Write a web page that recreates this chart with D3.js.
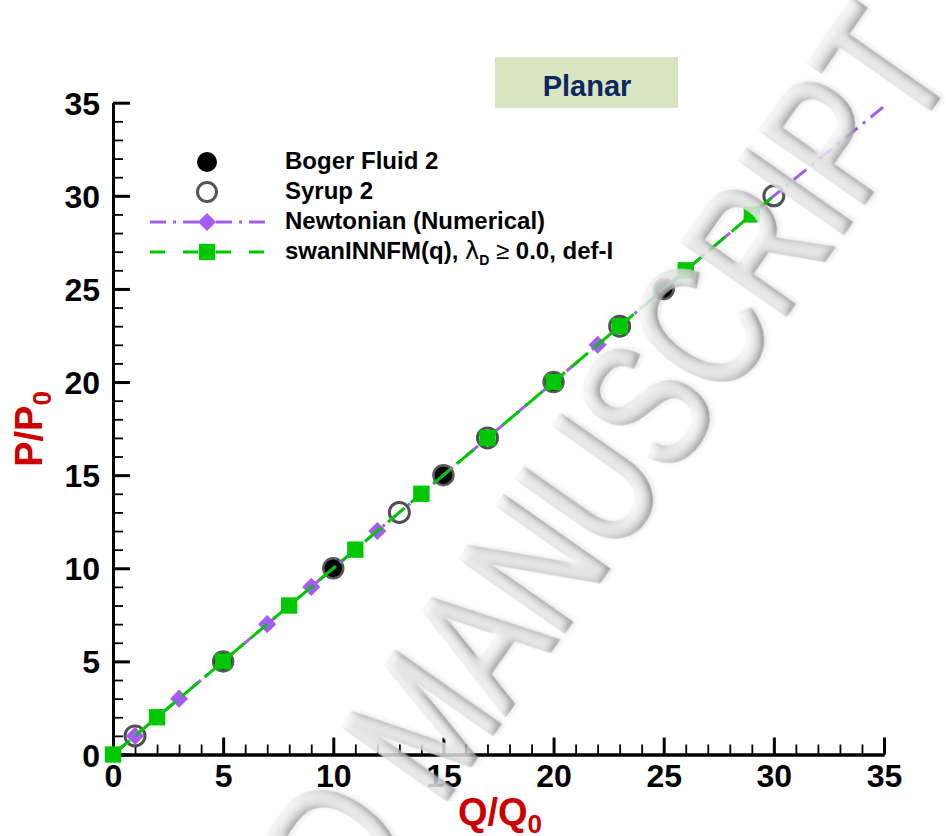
<!DOCTYPE html>
<html>
<head>
<meta charset="utf-8">
<script src="https://cdn.jsdelivr.net/npm/d3@7"></script>
<style>
  html, body { margin: 0; padding: 0; background: #ffffff; }
  svg { display: block; }
  text { font-family: "Liberation Sans", Arial, Helvetica, sans-serif; }
</style>
</head>
<body>
<div id="chart"></div>
<script>
// Dimensionless pressure drop vs flow rate, planar contraction
const xTicks = [0, 5, 10, 15, 20, 25, 30, 35];
const yTicks = [0, 5, 10, 15, 20, 25, 30, 35];

// Experimental data
const bogerQ = [5, 10, 15, 20, 25];
const bogerP = [5, 10, 15, 20, 25];
const syrupQ = [1, 13, 17, 23, 30];
const syrupP = [1, 13, 17, 23, 30];

// Newtonian numerical solution (curve nodes and the nodes carrying symbols)
const newtonianQ = [0, 1, 3, 7, 9, 12, 22, 30, 35];
const newtonianP = [0, 1, 3, 7, 9, 12, 22, 30, 34.8];
const newtonianSymbolQ = [1, 3, 7, 9, 12, 22];

// swanINNFM(q) solution
const swanQ = [0, 2, 5, 8, 11, 14, 17, 20, 23, 26, 29, 30];
const swanP = [0, 2, 5, 8, 11, 14, 17, 20, 23, 26, 29, 30];
const swanSymbolQ = [0, 2, 5, 8, 11, 14, 17, 20, 23, 26, 29];

const legendLabels = ["Boger Fluid 2", "Syrup 2", "Newtonian (Numerical)", "swanINNFM(q)"];

const W = 946, H = 836;
const purple = "#a45cf5", green = "#00c800";

const svg = d3.select("#chart").append("svg")
  .attr("width", W).attr("height", H)
  .attr("viewBox", `0 0 ${W} ${H}`);

svg.append("rect").attr("width", W).attr("height", H).attr("fill", "#ffffff");

const x = d3.scaleLinear().domain([0, 35]).range([113, 884]);
const y = d3.scaleLinear().domain([0, 35]).range([754.5, 102.7]);

const minorVals = d3.range(0, 36).filter(v => v % 5 !== 0);

// ---- axes ----
function styleAxis(g, major) {
  g.select(".domain").attr("stroke", "#000").attr("stroke-width", 3);
  g.selectAll(".tick line").attr("stroke", "#000").attr("stroke-width", major ? 3 : 1.8);
  g.selectAll(".tick text")
    .attr("fill", "#000")
    .style("font-size", "32px")
    .style("font-weight", "bold");
}

const xMinor = svg.append("g").attr("transform", `translate(0,${y(0)})`)
  .call(d3.axisBottom(x).tickValues(minorVals).tickSizeInner(-10).tickSizeOuter(0).tickFormat(""));
styleAxis(xMinor, false);
const yMinor = svg.append("g").attr("transform", `translate(${x(0)},0)`)
  .call(d3.axisLeft(y).tickValues(minorVals).tickSizeInner(-10).tickSizeOuter(0).tickFormat(""));
styleAxis(yMinor, false);

const xAxis = svg.append("g").attr("transform", `translate(0,${y(0)})`)
  .call(d3.axisBottom(x).tickValues(xTicks).tickSizeInner(-17).tickSizeOuter(0).tickPadding(10).tickFormat(d3.format("d")));
styleAxis(xAxis, true);
const yAxis = svg.append("g").attr("transform", `translate(${x(0)},0)`)
  .call(d3.axisLeft(y).tickValues(yTicks).tickSizeInner(-17).tickSizeOuter(0).tickPadding(13).tickFormat(d3.format("d")));
styleAxis(yAxis, true);
yAxis.selectAll(".tick text").attr("dy", "0.36em");

// ---- axis titles ----
const xt = svg.append("text")
  .attr("x", 500).attr("y", 825)
  .attr("text-anchor", "middle")
  .attr("fill", "#cc0000")
  .style("font-size", "38px").style("font-weight", "bold");
xt.append("tspan").text("Q/Q");
xt.append("tspan").attr("dy", 8).style("font-size", "26px").text("0");

const yt = svg.append("text")
  .attr("transform", "translate(42,429) rotate(-90)")
  .attr("text-anchor", "middle")
  .attr("fill", "#cc0000")
  .style("font-size", "38px").style("font-weight", "bold");
yt.append("tspan").text("P/P");
yt.append("tspan").attr("dy", 9).style("font-size", "26px").text("0");

// ---- "Planar" label ----
svg.append("rect")
  .attr("x", 495).attr("y", 57).attr("width", 183).attr("height", 51)
  .attr("fill", "#d9e4c2");
svg.append("text")
  .attr("x", 587).attr("y", 96)
  .attr("text-anchor", "middle")
  .attr("fill", "#0e2761")
  .style("font-size", "29px").style("font-weight", "bold")
  .text("Planar");

// ---- data marks ----
const bogerPts = bogerQ.map((q, i) => [q, bogerP[i]]);
const syrupPts = syrupQ.map((q, i) => [q, syrupP[i]]);
const newtonianPts = newtonianQ.map((q, i) => [q, newtonianP[i]]);
const swanPts = swanQ.map((q, i) => [q, swanP[i]]);

const line = d3.line().x(d => x(d[0])).y(d => y(d[1]));

svg.append("g").selectAll("circle").data(bogerPts).join("circle")
  .attr("cx", d => x(d[0])).attr("cy", d => y(d[1])).attr("r", 10)
  .attr("fill", "#000").attr("stroke", "#5a5a5a").attr("stroke-width", 2.5);

svg.append("g").selectAll("circle").data(syrupPts).join("circle")
  .attr("cx", d => x(d[0])).attr("cy", d => y(d[1])).attr("r", 10)
  .attr("fill", "none").attr("stroke", "#505050").attr("stroke-width", 3);

const diamond = d3.symbol().type(d3.symbolDiamond2).size(210);
const square = d3.symbol().type(d3.symbolSquare2).size(340);

svg.append("path").datum(newtonianPts)
  .attr("d", line).attr("fill", "none")
  .attr("stroke", purple).attr("stroke-width", 3)
  .attr("stroke-dasharray", "16,7,3,7");
svg.append("g").selectAll("path")
  .data(newtonianPts.filter(d => newtonianSymbolQ.includes(d[0])))
  .join("path")
  .attr("transform", d => `translate(${x(d[0])},${y(d[1])})`)
  .attr("d", diamond).attr("fill", purple);

svg.append("path").datum(swanPts)
  .attr("d", line).attr("fill", "none")
  .attr("stroke", green).attr("stroke-width", 3)
  .attr("stroke-dasharray", "22,8");
svg.append("g").selectAll("path")
  .data(swanPts.filter(d => swanSymbolQ.includes(d[0])))
  .join("path")
  .attr("transform", d => `translate(${x(d[0])},${y(d[1])})`)
  .attr("d", square).attr("fill", green);

// ---- legend ----
const lg = svg.append("g");
const rowY = [162, 192, 222, 252];
const mx = 207, tx = 285;

lg.append("circle").attr("cx", mx).attr("cy", rowY[0]).attr("r", 10).attr("fill", "#000");
lg.append("circle").attr("cx", mx).attr("cy", rowY[1]).attr("r", 9.5)
  .attr("fill", "none").attr("stroke", "#555").attr("stroke-width", 3);

lg.append("line").attr("x1", 150).attr("x2", 265).attr("y1", rowY[2]).attr("y2", rowY[2])
  .attr("stroke", purple).attr("stroke-width", 3).attr("stroke-dasharray", "16,7,3,7");
lg.append("path").attr("transform", `translate(${mx},${rowY[2]})`).attr("d", diamond).attr("fill", purple);

lg.append("line").attr("x1", 150).attr("x2", 265).attr("y1", rowY[3]).attr("y2", rowY[3])
  .attr("stroke", green).attr("stroke-width", 3).attr("stroke-dasharray", "15,18");
lg.append("path").attr("transform", `translate(${mx},${rowY[3]})`).attr("d", square).attr("fill", green);

legendLabels.forEach((lab, i) => {
  const t = lg.append("text")
    .attr("x", tx).attr("y", rowY[i] + 7)
    .attr("fill", "#000")
    .style("font-size", "24px").style("font-weight", "bold");
  t.append("tspan").text(lab);
  if (i === 3) {
    t.append("tspan").text(", ");
    t.append("tspan").style("font-weight", "normal").style("font-family", "'DejaVu Sans', sans-serif").text("λ");
    t.append("tspan").attr("dy", 6).style("font-size", "14px").text("D");
    t.append("tspan").attr("dy", -6).style("font-weight", "normal").text(" ≥ ");
    t.append("tspan").text("0.0, def-I");
  }
});

// ---- watermark (embossed grey lettering) ----
const defs = svg.append("defs");
const f = defs.append("filter").attr("id", "emboss")
  .attr("x", "-5%").attr("y", "-20%").attr("width", "110%").attr("height", "140%");
f.append("feGaussianBlur").attr("in", "SourceAlpha").attr("stdDeviation", 4).attr("result", "blur");
const light = f.append("feDiffuseLighting").attr("in", "blur")
  .attr("surfaceScale", 4).attr("diffuseConstant", 1.2)
  .attr("lighting-color", "#e4e4e4").attr("result", "lit");
light.append("feDistantLight").attr("azimuth", 235).attr("elevation", 55);
f.append("feComposite").attr("in", "lit").attr("in2", "SourceAlpha").attr("operator", "in").attr("result", "litIn");
f.append("feGaussianBlur").attr("in", "SourceAlpha").attr("stdDeviation", 2.5).attr("result", "sblur");
f.append("feOffset").attr("in", "sblur").attr("dx", 3).attr("dy", 2).attr("result", "soff");
f.append("feFlood").attr("flood-color", "#000").attr("flood-opacity", 0.12).attr("result", "sc");
f.append("feComposite").attr("in", "sc").attr("in2", "soff").attr("operator", "in").attr("result", "shadow");
const fm = f.append("feMerge");
fm.append("feMergeNode").attr("in", "shadow");
fm.append("feMergeNode").attr("in", "litIn");

const wm = svg.append("g")
  .attr("transform", "translate(440,808) rotate(-55) scale(0.75,1)")
  .attr("opacity", 0.85);
const wmText = wm.append("g").attr("filter", "url(#emboss)");
wmText.append("text").attr("x", 0).attr("y", 0)
  .attr("fill", "#cccccc").attr("stroke", "#cccccc").attr("stroke-width", 5)
  .style("font-size", "182px")
  .text("MANUSCRIPT");
wmText.append("text").attr("x", -50).attr("y", 0)
  .attr("text-anchor", "end")
  .attr("fill", "#cccccc").attr("stroke", "#cccccc").attr("stroke-width", 5)
  .style("font-size", "182px")
  .text("ACCEPTED");
</script>
</body>
</html>
